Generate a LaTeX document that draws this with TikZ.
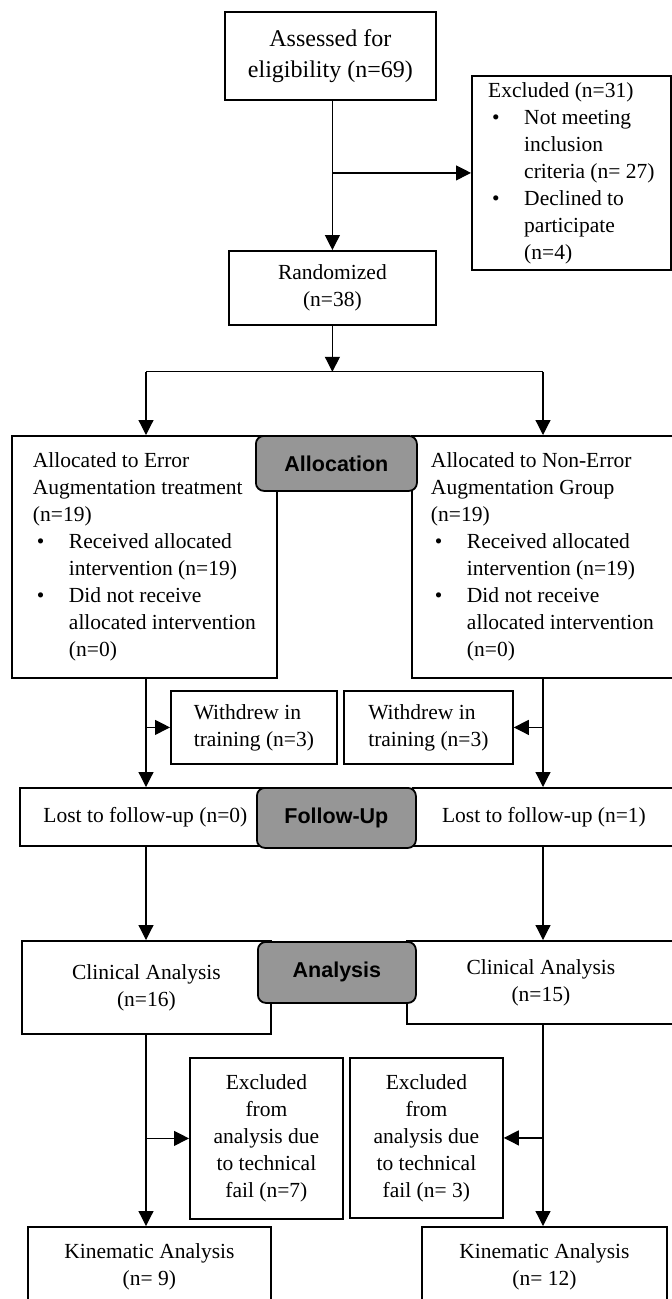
\documentclass[tikz,border=0pt]{standalone}
\usepackage{fontspec}
\setmainfont{Liberation Serif}
\newfontfamily\tagfont{Liberation Sans}
\usetikzlibrary{arrows.meta,positioning}
\definecolor{taggray}{RGB}{150,150,150}
\newcommand{\bulitem}{\makebox[36pt][l]{\hspace{4pt}\textbullet}}
\newcommand{\bulpad}{\hspace*{36pt}}

\begin{document}
\begin{tikzpicture}[x=1pt,y=-1pt,
  box/.style={draw,line width=1.8pt,inner sep=0pt,align=center,anchor=north west},
  tag/.style={draw,line width=1.8pt,rounded corners=8pt,fill=taggray,font=\tagfont\bfseries\fontsize{21.5}{27}\selectfont,inner sep=0pt,anchor=north west},
  link/.style={line width=1.2pt,-{Triangle[length=15pt,width=15pt]}},
  font=\fontsize{21.5}{27}\selectfont]
\useasboundingbox (0,0) rectangle (672,1299);

\node[box,minimum width=211pt,minimum height=88pt,font=\fontsize{24}{31}\selectfont] (assess) at (224,11) {Assessed for\\eligibility (n=69)};
\node[box,align=left,minimum width=199pt,minimum height=194pt] (excl) at (471,75) {Excluded (n=31)\\
\bulitem Not meeting\\
\bulpad inclusion\\
\bulpad criteria (n= 27)\\
\bulitem Declined to\\
\bulpad participate\\
\bulpad (n=4)};
\node[box,minimum width=207pt,minimum height=74pt] (randm) at (228,250) {Randomized\\(n=38)};

\node[box,align=left,minimum width=265pt,minimum height=242pt] (allocL) at (11,435) {Allocated to Error\\
Augmentation treatment\\
(n=19)\\
\bulitem Received allocated\\
\bulpad intervention (n=19)\\
\bulitem Did not receive\\
\bulpad allocated intervention\\
\bulpad (n=0)};
\node[box,align=left,minimum width=261pt,minimum height=242pt] (allocR) at (411,435) {Allocated to Non-Error\\
Augmentation Group\\
(n=19)\\
\bulitem Received allocated\\
\bulpad intervention (n=19)\\
\bulitem Did not receive\\
\bulpad allocated intervention\\
\bulpad (n=0)};

\node[box,align=left,minimum width=166pt,minimum height=73pt] (wdL) at (170,690) {Withdrew in\\training (n=3)};
\node[box,align=left,minimum width=169pt,minimum height=73pt] (wdR) at (343,690) {Withdrew in\\training (n=3)};

\node[box,minimum width=251pt,minimum height=58pt] (fupL) at (19,787) {Lost to follow-up (n=0)};
\node[box,minimum width=262pt,minimum height=58pt] (fupR) at (412,787) {Lost to follow-up (n=1)};

\node[box,minimum width=249pt,minimum height=93pt] (clinL) at (21,940) {Clinical Analysis\\(n=16)};
\node[box,minimum width=268pt,minimum height=83pt] (clinR) at (406,940) {Clinical Analysis\\(n=15)};

\node[box,minimum width=153pt,minimum height=161pt] (exL) at (189,1057) {Excluded\\from\\analysis due\\to technical\\fail (n=7)};
\node[box,minimum width=153pt,minimum height=160pt] (exR) at (349,1057) {Excluded\\from\\analysis due\\to technical\\fail (n= 3)};

\node[box,minimum width=243pt,minimum height=80pt] (kinL) at (27,1226) {Kinematic Analysis\\(n= 9)};
\node[box,minimum width=245pt,minimum height=80pt] (kinR) at (421,1226) {Kinematic Analysis\\(n= 12)};

\node[tag,minimum width=161pt,minimum height=55pt] (tagAlloc) at (255,435) {Allocation};
\node[tag,minimum width=159pt,minimum height=60pt] (tagFup) at (256,787) {Follow-Up};
\node[tag,minimum width=158pt,minimum height=61pt] (tagAna) at (257,941) {Analysis};

\coordinate (lcol) at (146,0);
\coordinate (rcol) at (543,0);
\coordinate[below=46pt of randm.south] (split);

\draw[link] (assess.south -| randm.north) -- (randm.north);
\draw[link] (randm.north |- excl.west) -- (excl.west);
\draw[link] (randm) -- (split);
\draw[line width=1.2pt] (split -| lcol) -- (split -| rcol);
\draw[link] (split -| lcol) -- (allocL.north -| lcol);
\draw[link] (split -| rcol) -- (allocR.north -| rcol);
\draw[link] (allocL.south -| lcol) -- (fupL.north -| lcol);
\draw[link] (allocR.south -| rcol) -- (fupR.north -| rcol);
\draw[link] (wdL.west -| lcol) -- (wdL.west);
\draw[link] (wdR.east -| rcol) -- (wdR.east);
\draw[link] (fupL.south -| lcol) -- (clinL.north -| lcol);
\draw[link] (fupR.south -| rcol) -- (clinR.north -| rcol);
\draw[link] (clinL.south -| lcol) -- (kinL.north -| lcol);
\draw[link] (clinR.south -| rcol) -- (kinR.north -| rcol);
\draw[link] (exL.west -| lcol) -- (exL.west);
\draw[link] (exR.east -| rcol) -- (exR.east);
\end{tikzpicture}
\end{document}
